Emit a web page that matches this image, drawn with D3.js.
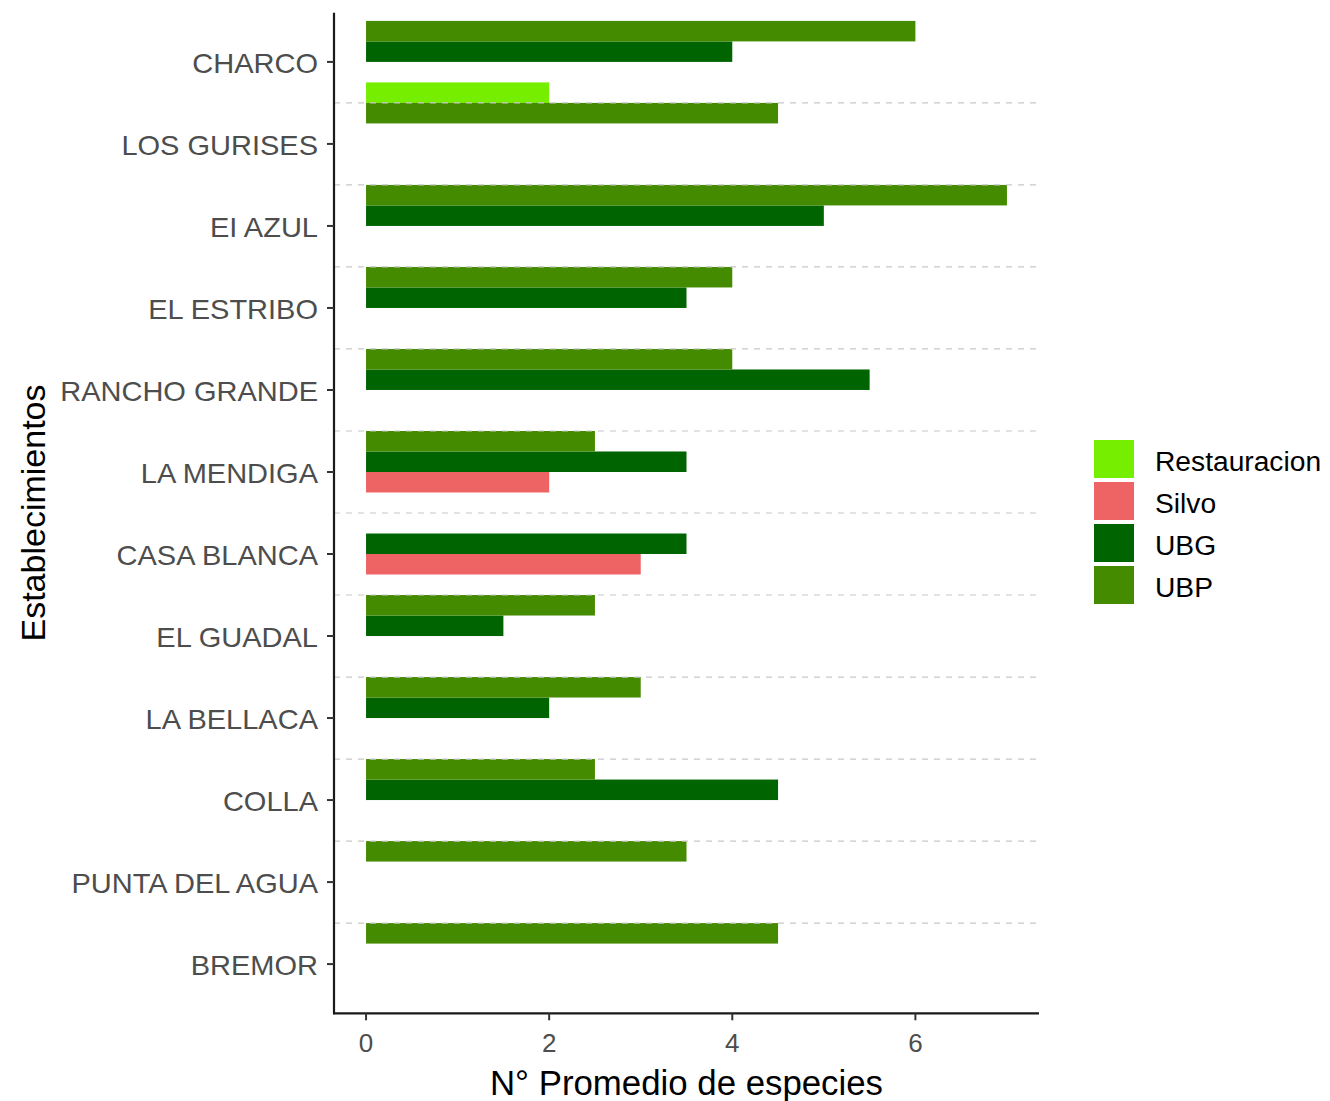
<!DOCTYPE html>
<html>
<head>
<meta charset="utf-8">
<script src="https://cdnjs.cloudflare.com/ajax/libs/d3/7.8.5/d3.min.js"></script>
<style>
  html, body { margin: 0; padding: 0; background: #ffffff; }
  svg { display: block; font-family: "Liberation Sans", Arial, sans-serif; }
</style>
</head>
<body>
<svg id="chart" width="1330" height="1101"></svg>
<script>
// Establishments, top to bottom
const categories = ["CHARCO", "LOS GURISES", "EI AZUL", "EL ESTRIBO", "RANCHO GRANDE",
  "LA MENDIGA", "CASA BLANCA", "EL GUADAL", "LA BELLACA", "COLLA", "PUNTA DEL AGUA", "BREMOR"];

// Land-use groups (legend order)
const series = ["Restauracion", "Silvo", "UBG", "UBP"];

// Mean number of species per establishment and group (null = no sample)
const restauracion = [null, 2, null, null, null, null, null, null, null, null, null, null];
const silvo        = [null, null, null, null, null, 2, 3, null, null, null, null, null];
const ubg          = [4, null, 5, 3.5, 5.5, 3.5, 3.5, 1.5, 2, 4.5, null, null];
const ubp          = [6, 4.5, 7, 4, 4, 2.5, null, 2.5, 3, 2.5, 3.5, 4.5];

const xTicks = [0, 2, 4, 6];

const colors = {
  Restauracion: "#76EE00",
  Silvo: "#EE6363",
  UBG: "#006400",
  UBP: "#458B00"
};

const valuesBySeries = { Restauracion: restauracion, Silvo: silvo, UBG: ubg, UBP: ubp };

const rows = [];
series.forEach(s => {
  valuesBySeries[s].forEach((v, i) => {
    if (v != null) rows.push({ category: categories[i], series: s, value: v });
  });
});

const svg = d3.select("#chart");

const panel = { left: 334, right: 1039, top: 12.7, bottom: 1013.3 };

const x = d3.scaleLinear().domain([-0.35, 7.35]).range([panel.left, panel.right]);

const y = d3.scaleBand()
  .domain(categories)
  .range([panel.top, panel.bottom])
  .paddingInner(0)
  .paddingOuter(0.1);

const step = y.bandwidth();
const center = c => y(c) + step / 2;

// Dodge slots relative to each category's tick
const slot = d3.scaleBand()
  .domain(["Restauracion", "UBP", "UBG", "Silvo"])
  .range([-0.75 * step, 0.25 * step])
  .padding(0);

// Bars
svg.append("g")
  .selectAll("rect")
  .data(rows)
  .join("rect")
  .attr("x", x(0))
  .attr("y", d => center(d.category) + slot(d.series))
  .attr("width", d => x(d.value) - x(0))
  .attr("height", slot.bandwidth())
  .attr("fill", d => colors[d.series]);

// Dashed separators between establishments
svg.append("g")
  .selectAll("line")
  .data(categories.slice(0, -1))
  .join("line")
  .attr("x1", panel.left)
  .attr("x2", panel.right)
  .attr("y1", d => center(d) + step / 2)
  .attr("y2", d => center(d) + step / 2)
  .attr("stroke", "#c8c8c8")
  .attr("stroke-width", 1.2)
  .attr("stroke-dasharray", "6,6");

// Y axis
const yAxis = svg.append("g");
yAxis.append("line")
  .attr("x1", panel.left).attr("x2", panel.left)
  .attr("y1", panel.top).attr("y2", panel.bottom + 1)
  .attr("stroke", "#1a1a1a").attr("stroke-width", 2.2);
yAxis.selectAll("line.tick")
  .data(categories)
  .join("line")
  .attr("class", "tick")
  .attr("x1", panel.left - 7).attr("x2", panel.left)
  .attr("y1", d => center(d)).attr("y2", d => center(d))
  .attr("stroke", "#333333").attr("stroke-width", 2);
yAxis.selectAll("text")
  .data(categories)
  .join("text")
  .attr("transform", d => `translate(318,${center(d) + 1}) scale(1.055,1)`)
  .attr("dy", "0.36em")
  .attr("text-anchor", "end")
  .attr("font-size", 27.5)
  .attr("fill", "#4d4d4d")
  .text(d => d);

// X axis
const xAxis = svg.append("g");
xAxis.append("line")
  .attr("x1", panel.left - 1).attr("x2", panel.right)
  .attr("y1", panel.bottom).attr("y2", panel.bottom)
  .attr("stroke", "#1a1a1a").attr("stroke-width", 2.2);
xAxis.selectAll("line.tick")
  .data(xTicks)
  .join("line")
  .attr("class", "tick")
  .attr("x1", d => x(d)).attr("x2", d => x(d))
  .attr("y1", panel.bottom).attr("y2", panel.bottom + 7)
  .attr("stroke", "#333333").attr("stroke-width", 2);
xAxis.selectAll("text")
  .data(xTicks)
  .join("text")
  .attr("x", d => x(d))
  .attr("y", 1043)
  .attr("dy", "0.36em")
  .attr("text-anchor", "middle")
  .attr("font-size", 26)
  .attr("fill", "#4d4d4d")
  .text(d => d);

// Axis titles
svg.append("text")
  .attr("x", (panel.left + panel.right) / 2)
  .attr("y", 1082)
  .attr("dy", "0.36em")
  .attr("text-anchor", "middle")
  .attr("font-size", 34.8)
  .attr("fill", "#000")
  .text("N° Promedio de especies");

svg.append("text")
  .attr("transform", `translate(33,${(panel.top + panel.bottom) / 2}) rotate(-90)`)
  .attr("dy", "0.36em")
  .attr("text-anchor", "middle")
  .attr("font-size", 34)
  .attr("fill", "#000")
  .text("Establecimientos");

// Legend
const legend = svg.append("g").attr("transform", "translate(1094,440)");
const keyStep = 42;
legend.selectAll("rect")
  .data(series)
  .join("rect")
  .attr("x", 0)
  .attr("y", (d, i) => i * keyStep)
  .attr("width", 40)
  .attr("height", 38)
  .attr("fill", d => colors[d]);
legend.selectAll("text")
  .data(series)
  .join("text")
  .attr("x", 61)
  .attr("y", (d, i) => i * keyStep + 21)
  .attr("dy", "0.36em")
  .attr("font-size", 28.2)
  .attr("fill", "#000")
  .text(d => d);
</script>
</body>
</html>
